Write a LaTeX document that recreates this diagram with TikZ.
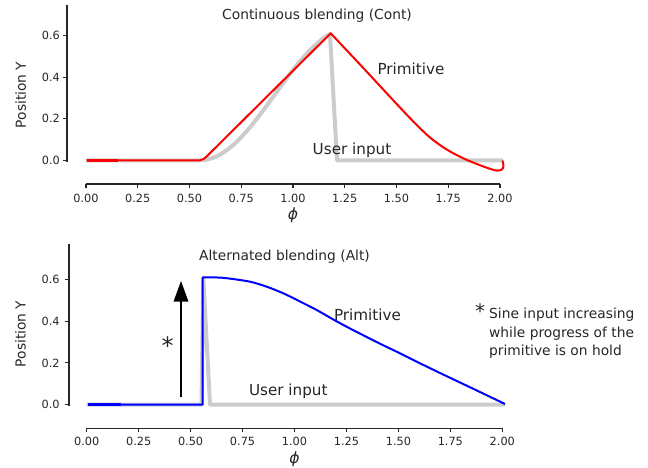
\documentclass[tikz,border=0pt]{standalone}
\usepackage{fontspec}
\setmainfont{DejaVu Sans}
\usetikzlibrary{arrows.meta}
\definecolor{txt}{HTML}{262626}
\definecolor{usr}{HTML}{CCCCCC}
\begin{document}
\begin{tikzpicture}[x=1pt,y=-1pt,
  spine/.style={draw=txt,line width=1.1pt},
  tickmark/.style={draw=txt,line width=1.1pt},
  ticklab/.style={text=txt,font=\fontsize{11.3}{13}\selectfont,inner sep=0pt},
  lab/.style={text=txt,font=\fontsize{15.2}{17}\selectfont,inner sep=0pt},
  ttl/.style={text=txt,font=\fontsize{13.8}{16}\selectfont,inner sep=0pt},
  philab/.style={text=txt,font=\fontsize{15.5}{17}\selectfont\itshape,inner sep=0pt},
  note/.style={text=txt,font=\fontsize{13.8}{18.5}\selectfont,inner sep=0pt,align=left},
  usercurve/.style={draw=usr,line width=4pt,line join=round},
  primred/.style={draw=red,line width=2pt,line join=round},
  primblue/.style={draw=blue,line width=2pt,line join=round},
]
\useasboundingbox (0,0) rectangle (648,468);

% ================= TOP PLOT =================
% axes
\draw[spine] (67,5) -- (67,162);
\foreach \k/\l in {0/0.0,1/0.2,2/0.4,3/0.6}{
  \draw[tickmark] (63,{160.3-41.55*\k}) -- (67,{160.3-41.55*\k});
  \node[ticklab,anchor=east] (ty\k) at (60,{160.3-41.55*\k}) {\l};
}
\draw[spine] (86,184) -- (500,184);
\foreach \k/\l in {0/0.00,1/0.25,2/0.50,3/0.75,4/1.00,5/1.25,6/1.50,7/1.75,8/2.00}{
  \draw[tickmark] ({86+51.75*\k},184) -- ({86+51.75*\k},188);
  \node[ticklab] (tx\k) at ({86+51.75*\k},198) {\l};
}
\node[philab] (phiA) at (293,215) {ϕ};
\node[ttl,rotate=90] (ylabA) at (20.7,95) {Position Y};
\node[ttl] (titleA) at (317,15.5) {Continuous blending (Cont)};

% user input (grey)
\draw[usercurve] (86,160.3) -- (200,160.3)
  -- plot[domain=0:130,samples=40] ({200+\x},{160.3-66*(1-cos(1.2*\x))})
  -- (337,160.3) -- (503,160.3);
% primitive (red)
\draw[primred] (86.7,160.3) -- (200,160.3) .. controls (203,160.3) and (204,158.3) .. (206.5,156.6)
  -- (330.7,33.3)
  -- plot[smooth,tension=0.55] coordinates {(330.7,33.3) (363.3,68) (380,86) (396.7,104) (413.3,121.5) (430,137.5) (446.7,149.5) (463.3,158.3) (480,165.2) (490,168.8) (497,170.6) (501.8,169.5) (503.5,166) (502.5,160.5)};
\draw[red,line width=3.5pt] (86.7,160.3) -- (118.3,160.3);

\node[lab] (primA) at (411,68.5) {Primitive};
\node[lab] (userA) at (352,150) {User input};

% ================= BOTTOM PLOT =================
\draw[spine] (69,244) -- (69,406);
\foreach \k/\l in {0/0.0,1/0.2,2/0.4,3/0.6}{
  \draw[tickmark] (64.5,{404.7-41.8*\k}) -- (69,{404.7-41.8*\k});
  \node[ticklab,anchor=east] (by\k) at (59.8,{404.7-41.8*\k}) {\l};
}
\draw[spine] (86.7,428.3) -- (502.3,428.3);
\foreach \k/\l in {0/0.00,1/0.25,2/0.50,3/0.75,4/1.00,5/1.25,6/1.50,7/1.75,8/2.00}{
  \draw[tickmark] ({86.7+51.95*\k},428.3) -- ({86.7+51.95*\k},432.3);
  \node[ticklab] (bx\k) at ({86.7+51.95*\k},441.7) {\l};
}
\node[philab] (phiB) at (294.5,459) {ϕ};
\node[ttl,rotate=90] (ylabB) at (20.5,334) {Position Y};
\node[ttl] (titleB) at (284.5,257) {Alternated blending (Alt)};

% user input (grey)
\draw[usercurve] (86.7,404.7) -- (201.5,404.7) -- (203.3,278) -- (210,404.7) -- (505,404.7);
% primitive (blue)
\draw[primblue] (88,404.7) -- (202.7,404.7) -- (202.7,277.3)
  -- plot[smooth,tension=0.5] coordinates {(202.7,277.3) (215,277.4) (226.7,278.2) (250,281.7) (266.7,286.7) (283.3,293.3) (300,301.5) (316.7,310) (333.3,319.5) (350,328.5) (366.7,337) (383.3,345.3) (400,353.3) (420,363.3) (440,373) (460,382.5) (480,392) (505,404)};
\draw[blue,line width=3.5pt] (88.3,404.5) -- (120.7,404.5);

\node[lab] (primB) at (367.5,315) {Primitive};
\node[lab] (userB) at (288.3,391.7) {User input};

% arrow and asterisk
\coordinate (arrTail) at (181,396.7);
\coordinate (arrTip) at (181,281);
\draw[black,line width=1.4pt,-{Triangle[width=14.5pt,length=20.5pt]}] (arrTail) -- (arrTip);
\node[text=txt,font=\fontsize{24}{24}\selectfont,inner sep=0pt,anchor=base] (astBig) at (167.5,354) {*};

% note
\node[text=txt,font=\fontsize{20}{20}\selectfont,inner sep=0pt,anchor=base] (astSmall) at (480.2,318) {*};
\node[note,anchor=north west] (noteTxt) at (489,308) {Sine input increasing\\while progress of the\\primitive is on hold};
\end{tikzpicture}
\end{document}
